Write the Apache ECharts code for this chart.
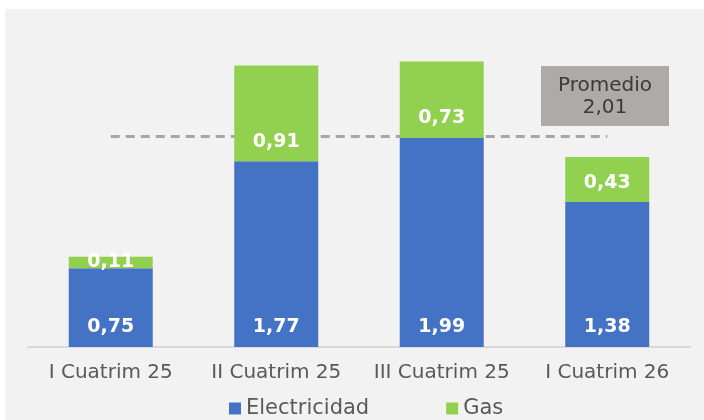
<!DOCTYPE html>
<html>
<head>
    <meta charset="utf-8">
    <title>Cuatrimestres</title>
    <style type="text/css">
        body { margin: 0; }
        html, body, #chart { width: 704px; height: 420px; }
    </style>
</head>
<body>
    <div id="chart"></div>
    <script src="https://cdn.jsdelivr.net/npm/echarts@6/dist/echarts.min.js"></script>
    <script>
        var categories = ['I Cuatrim 25', 'II Cuatrim 25', 'III Cuatrim 25', 'I Cuatrim 26'];
        var electricidad = [0.75, 1.77, 1.99, 1.38];
        var gas = [0.11, 0.91, 0.73, 0.43];
        var promedio = 2.01;

        function comma(v) {
            return v.toFixed(2).replace('.', ',');
        }

        var barLabel = {
            show: true,
            position: 'insideBottom',
            distance: 10,
            color: '#fff',
            fontFamily: 'DejaVu Sans',
            fontWeight: 'bold',
            fontSize: 19,
            formatter: function (p) { return comma(p.value); }
        };

        // very thin segments get their label centred on the bar, like the original
        var gasData = gas.map(function (v) {
            return v < 0.2 ? { value: v, label: { position: 'inside' } } : v;
        });

        var chart = echarts.init(document.getElementById('chart'));
        chart.setOption({
            backgroundColor: '#fff',
            animation: false,
            graphic: [
                { type: 'rect', z: -10, shape: { x: 5, y: 9, width: 699, height: 411 }, style: { fill: '#f2f2f2' } },
                {
                    type: 'group', left: 541, top: 66, z: 100,
                    children: [
                        { type: 'rect', shape: { x: 0, y: 0, width: 128, height: 60 }, style: { fill: '#aeaaaa' } },
                        {
                            type: 'text', x: 64, y: 31,
                            style: {
                                text: 'Promedio\n' + comma(promedio),
                                align: 'center', verticalAlign: 'middle',
                                fill: '#3a3a3a', fontFamily: 'DejaVu Sans', fontSize: 20, lineHeight: 22
                            }
                        }
                    ]
                }
            ],
            grid: { left: 28, right: 14, top: 32, bottom: 73 },
            legend: {
                left: 224,
                bottom: -4,
                itemWidth: 12,
                itemHeight: 12,
                itemGap: 77,
                icon: 'rect',
                textStyle: { color: '#595959', fontFamily: 'DejaVu Sans', fontSize: 21 },
                data: ['Electricidad', 'Gas']
            },
            xAxis: {
                type: 'category',
                data: categories,
                axisLine: { lineStyle: { color: '#d9d9d9', width: 2 } },
                axisTick: { show: false },
                axisLabel: { interval: 0, color: '#595959', fontFamily: 'DejaVu Sans', fontSize: 20, margin: 16 }
            },
            yAxis: {
                type: 'value',
                min: 0,
                max: 3,
                show: false,
                splitLine: { show: false }
            },
            series: [
                {
                    name: 'Electricidad',
                    type: 'bar',
                    stack: 'total',
                    barWidth: 84,
                    data: electricidad,
                    itemStyle: { color: '#4472c4' },
                    label: barLabel,
                    markLine: {
                        silent: true,
                        z: 1,
                        symbol: 'none',
                        label: { show: false },
                        lineStyle: { color: '#a6a6a6', type: [9, 6], width: 3 },
                        data: [[{ xAxis: 0, yAxis: promedio }, { xAxis: 3, yAxis: promedio }]]
                    }
                },
                {
                    name: 'Gas',
                    type: 'bar',
                    stack: 'total',
                    z: 5,
                    barWidth: 84,
                    data: gasData,
                    itemStyle: { color: '#92d050' },
                    label: barLabel
                }
            ]
        });
    </script>
</body>
</html>
